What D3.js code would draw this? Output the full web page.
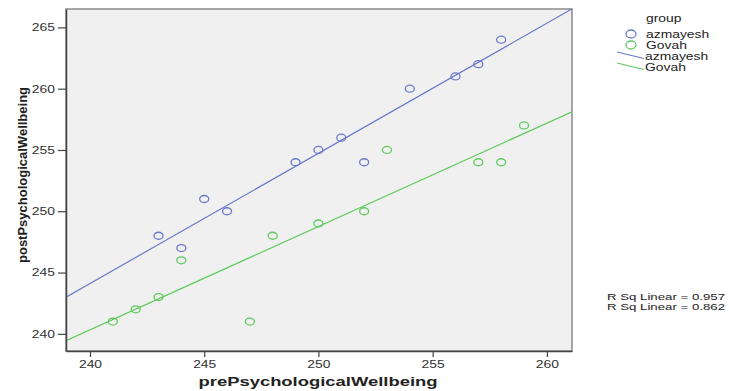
<!DOCTYPE html>
<html>
<head>
<meta charset="utf-8">
<script src="https://cdn.jsdelivr.net/npm/d3@7"></script>
<style>
  body { margin: 0; background: #fff; }
  text { font-family: "Liberation Sans", Arial, sans-serif; }
</style>
</head>
<body>
<div id="chart"></div>
<script>
// azmayesh group
const azPre  = [243, 244, 245, 246, 249, 250, 251, 252, 254, 256, 257, 258];
const azPost = [248, 247, 251, 250, 254, 255, 256, 254, 260, 261, 262, 264];
// Govah group
const goPre  = [241, 242, 243, 244, 247, 248, 250, 252, 253, 257, 258, 259];
const goPost = [241, 242, 243, 246, 241, 248, 249, 250, 255, 254, 254, 257];

const xTicks = [240, 245, 250, 255, 260];
const yTicks = [240, 245, 250, 255, 260, 265];
const groups = ["azmayesh", "Govah"];
const rsq = ["0.957", "0.862"];

const W = 729, H = 391;
const plot = { left: 66, top: 9, right: 572, bottom: 351 };
const colors = { azmayesh: "#6a78c9", Govah: "#5fcb5f" };
// the picture is stretched sideways, so text gets widened with textLength
const stretch = 1.32;

const x = d3.scaleLinear().domain([238.95, 261.1]).range([plot.left, plot.right]);
const y = d3.scaleLinear().domain([238.6, 266.5]).range([plot.bottom, plot.top]);

const svg = d3.select("#chart").append("svg")
  .attr("width", W).attr("height", H);

function widen(sel) {
  sel.each(function() {
    const w = this.getComputedTextLength();
    d3.select(this).attr("textLength", w * stretch).attr("lengthAdjust", "spacingAndGlyphs");
  });
}

svg.append("rect")
  .attr("x", plot.left).attr("y", plot.top)
  .attr("width", plot.right - plot.left).attr("height", plot.bottom - plot.top)
  .attr("fill", "#f0f0f0").attr("stroke", "#8a8a8a").attr("stroke-width", 1.5);

// least squares fit
function fit(xs, ys) {
  const mx = d3.mean(xs), my = d3.mean(ys);
  let sxy = 0, sxx = 0;
  xs.forEach((v, i) => { sxy += (v - mx) * (ys[i] - my); sxx += (v - mx) ** 2; });
  const b = sxy / sxx;
  return { b, a: my - b * mx };
}

svg.append("clipPath").attr("id", "clip")
  .append("rect")
  .attr("x", plot.left).attr("y", plot.top)
  .attr("width", plot.right - plot.left).attr("height", plot.bottom - plot.top);

const series = [
  { name: "azmayesh", xs: azPre, ys: azPost },
  { name: "Govah", xs: goPre, ys: goPost }
];

const g = svg.append("g").attr("clip-path", "url(#clip)");

series.forEach(s => {
  const f = fit(s.xs, s.ys);
  const dom = x.domain();
  g.append("line")
    .attr("x1", x(dom[0])).attr("y1", y(f.a + f.b * dom[0]))
    .attr("x2", x(dom[1])).attr("y2", y(f.a + f.b * dom[1]))
    .attr("stroke", colors[s.name]).attr("stroke-width", 1.2);
});

series.forEach(s => {
  g.selectAll(null)
    .data(s.xs.map((v, i) => [v, s.ys[i]]))
    .enter().append("ellipse")
    .attr("cx", d => x(d[0])).attr("cy", d => y(d[1]))
    .attr("rx", 4.5).attr("ry", 3.5)
    .attr("fill", "none").attr("stroke", colors[s.name]).attr("stroke-width", 1.3);
});

// axes
const xAxis = svg.append("g")
  .attr("transform", `translate(0,${plot.bottom})`)
  .call(d3.axisBottom(x).tickValues(xTicks).tickSize(6).tickPadding(4).tickSizeOuter(0));
const yAxis = svg.append("g")
  .attr("transform", `translate(${plot.left},0)`)
  .call(d3.axisLeft(y).tickValues(yTicks).tickSize(8).tickPadding(3).tickSizeOuter(0));

[xAxis, yAxis].forEach(a => {
  a.select(".domain").attr("stroke", "#444").attr("stroke-width", 1.5);
  a.selectAll(".tick line").attr("stroke", "#444").attr("stroke-width", 1.2);
  a.selectAll(".tick text").attr("fill", "#333")
    .style("font-size", "10.5px").style("font-family", "Liberation Sans, Arial, sans-serif")
    .call(widen);
});

const xTitle = svg.append("text")
  .attr("x", (plot.left + plot.right) / 2 - 1).attr("y", 386)
  .attr("text-anchor", "middle")
  .style("font-size", "12.5px").style("font-weight", "bold").attr("fill", "#222")
  .text("prePsychologicalWellbeing");
xTitle.attr("textLength", 239).attr("lengthAdjust", "spacingAndGlyphs");

svg.append("text")
  .attr("transform", `translate(27,${(plot.top + plot.bottom) / 2 - 5}) rotate(-90)`)
  .attr("text-anchor", "middle")
  .style("font-size", "13px").style("font-weight", "bold").attr("fill", "#222")
  .text("postPsychologicalWellbeing");

// legend
const leg = svg.append("g").style("font-size", "10.5px").attr("fill", "#222");
leg.append("text").attr("x", 646).attr("y", 22).text("group");
groups.forEach((name, i) => {
  leg.append("ellipse")
    .attr("cx", 631).attr("cy", 34 + i * 11)
    .attr("rx", 5).attr("ry", 4)
    .attr("fill", "none").attr("stroke", colors[name]).attr("stroke-width", 1.3);
  leg.append("text").attr("x", 646).attr("y", 37.5 + i * 11).text(name);
});
groups.forEach((name, i) => {
  const yy = 59.5 + i * 11;
  leg.append("line")
    .attr("x1", 617).attr("y1", yy - 7.5).attr("x2", 644).attr("y2", yy - 1)
    .attr("stroke", colors[name]).attr("stroke-width", 1.2);
  leg.append("text").attr("x", 645).attr("y", yy).text(name);
});
leg.selectAll("text").call(widen);

rsq.forEach((v, i) => {
  svg.append("text")
    .attr("x", 607).attr("y", 300 + i * 10)
    .style("font-size", "9px").attr("fill", "#222")
    .text("R Sq Linear = " + v)
    .attr("textLength", 118).attr("lengthAdjust", "spacingAndGlyphs");
});
</script>
</body>
</html>
